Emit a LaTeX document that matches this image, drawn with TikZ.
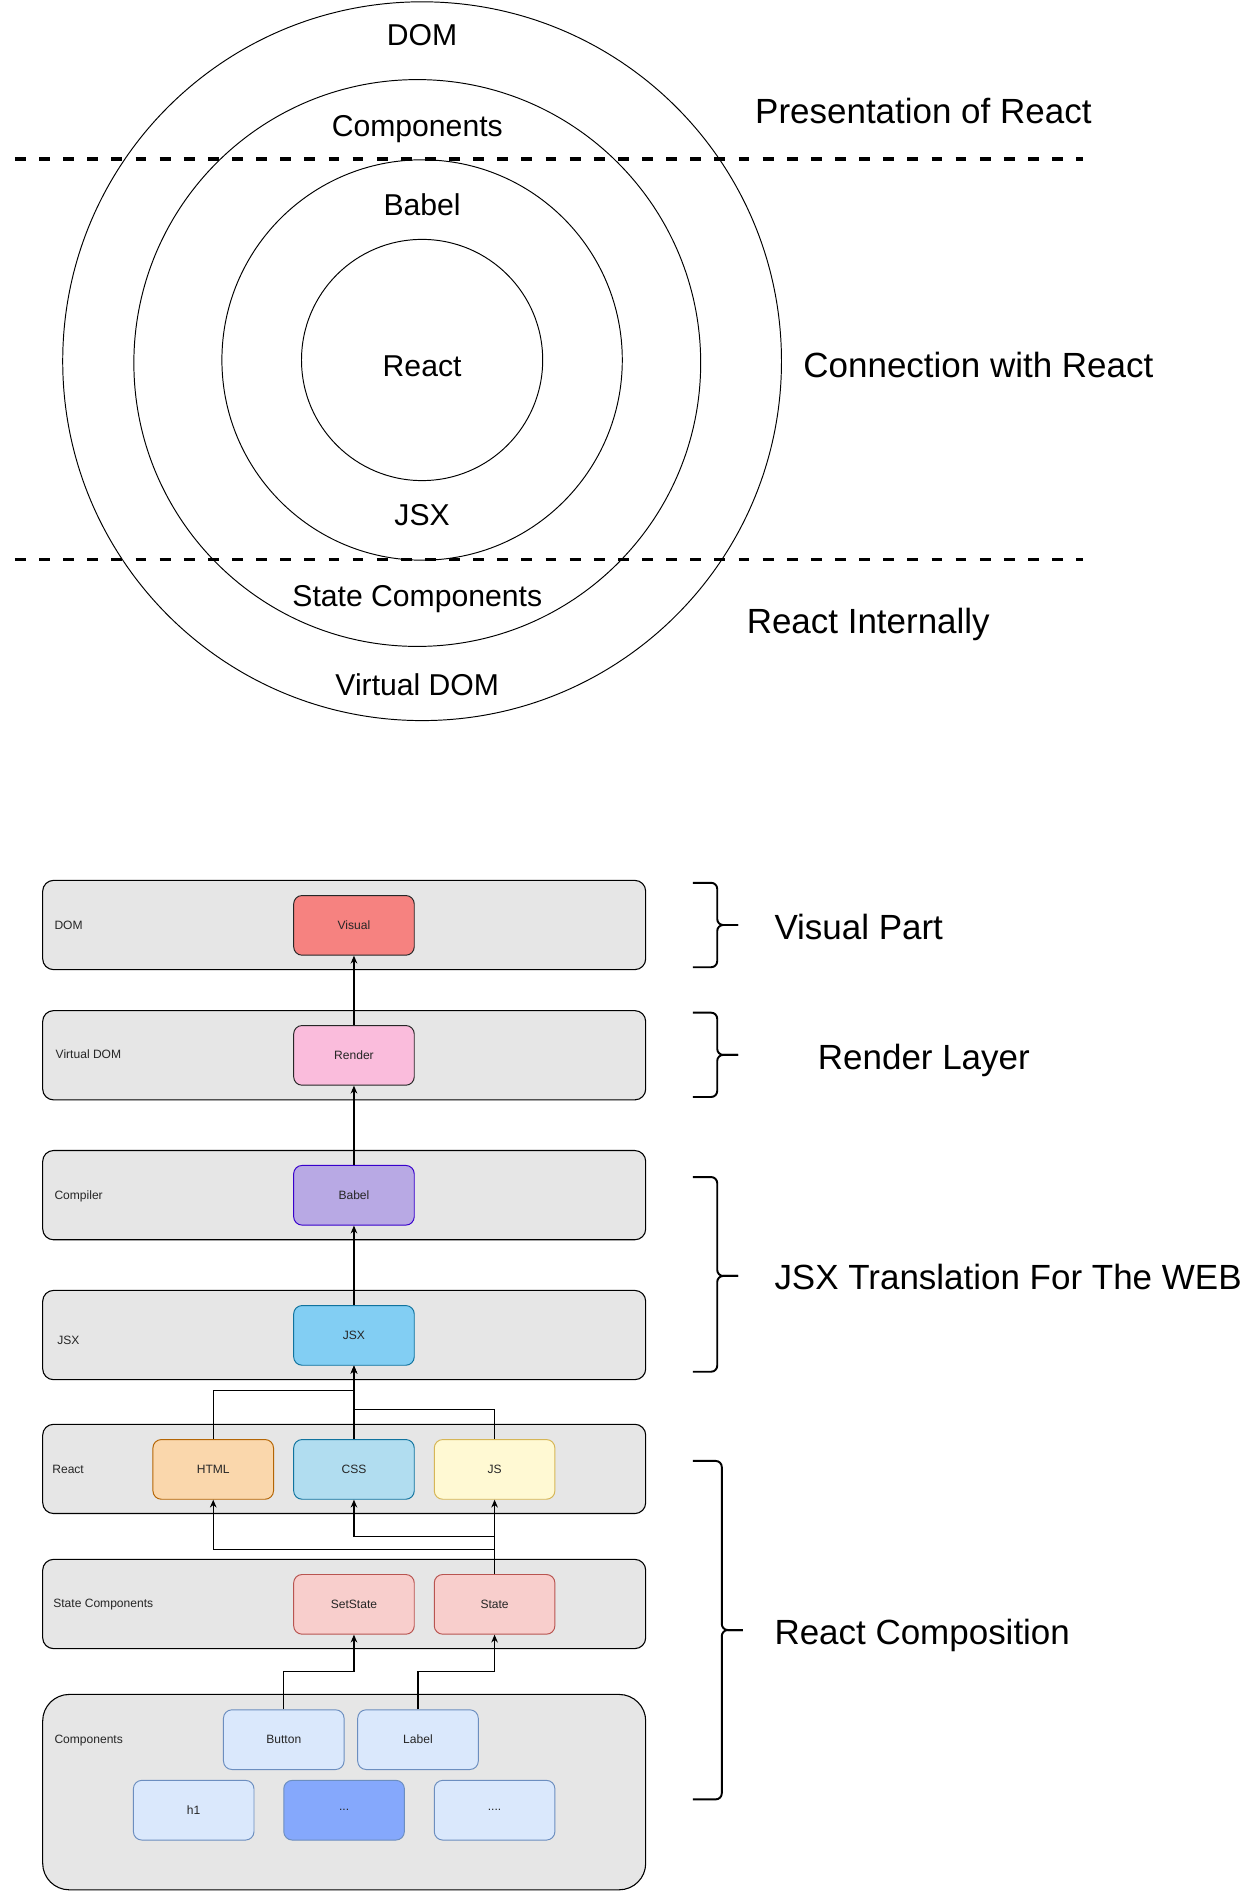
\documentclass[tikz,border=0pt]{standalone}
\usepackage{fontspec}
\setmainfont{Liberation Sans}
\usetikzlibrary{arrows.meta}

\definecolor{lanefill}{HTML}{E6E6E6}
\definecolor{visualfill}{RGB}{246,130,128}
\definecolor{renderfill}{RGB}{250,188,220}
\definecolor{babelfill}{RGB}{184,169,228}
\definecolor{babeldraw}{RGB}{55,0,204}
\definecolor{jsxfill}{RGB}{130,206,243}
\definecolor{bluedraw}{HTML}{10739E}
\definecolor{htmlfill}{HTML}{FAD7AC}
\definecolor{htmldraw}{HTML}{B46504}
\definecolor{cssfill}{HTML}{B1DDF0}
\definecolor{jsfill}{HTML}{FFF9D3}
\definecolor{jsdraw}{HTML}{D6B656}
\definecolor{statefill}{HTML}{F8CECC}
\definecolor{statedraw}{HTML}{B85450}
\definecolor{compfill}{HTML}{DAE8FC}
\definecolor{compdark}{RGB}{133,168,252}
\definecolor{compdraw}{HTML}{6C8EBF}

\begin{document}
\begin{tikzpicture}[x=1pt, y=-1pt]

      \tikzset{
        lane/.style={
          draw=black,
          fill=lanefill,
          line width=0.9pt,
          rounded corners=9pt,
          minimum width=500pt,
          minimum height=74pt,
          inner sep=0pt,
        },
        lane label/.style={
          anchor=base west,
          inner sep=0pt,
          text=black!85,
          font=\fontsize{10}{12}\selectfont,
        },
        item/.style={
          draw,
          line width=0.8pt,
          rounded corners=7pt,
          minimum width=100pt,
          minimum height=49.5pt,
          inner sep=0pt,
          text=black!85,
          font=\fontsize{10}{12}\selectfont,
        },
        link/.style={
          line width=0.9pt,
          -{Stealth[length=6.5pt,width=5.5pt]},
        },
        ring/.style={line width=0.8pt},
        ring label/.style={
          anchor=base,
          inner sep=0pt,
          font=\fontsize{25}{30}\selectfont,
        },
        side label/.style={
          anchor=base west,
          inner sep=0pt,
          font=\fontsize{29}{34}\selectfont,
        },
        split/.style={
          line width=3pt,
          dash pattern=on 9pt off 11pt,
        },
        brace/.style={line width=1.6pt, rounded corners=5pt},
      }

      \useasboundingbox (0,0) rectangle (1038,1568);

      \draw[ring] (350,299.5) circle[radius=298];
      \draw[ring] (346,301) circle[radius=235];
      \draw[ring] (350,298.5) circle[radius=166];
      \draw[ring] (350,298.5) circle[radius=100];

      \foreach \x/\y/\txt in {350/38/DOM,346/113/Components,350/179/Babel,
        350/312/React,350/436/JSX,346/503/State Components,346/577/Virtual DOM} {
        \node[ring label] at (\x,\y) {\txt};
      }

      \draw[split] (12.4,132) -- (898,132);
      \draw[split] (12.4,464) -- (898,464);

      \node[side label] (presentation) at (626,102) {Presentation of React};
      \node[side label] (connection) at (666,313) {Connection with React};
      \node[side label] (internally) at (619,525) {React Internally};

      \foreach \name/\y/\lx/\ly/\txt in {dom/767/45/770.6/DOM,
        vdom/875/46/877.6/Virtual DOM,compiler/991/45/994.2/Compiler,
        jsx/1107/47.3/1114.6/JSX,react/1218/43.2/1221.4/React,
        state/1330/44/1332.6/State Components} {
        \node[lane] (\name-lane) at (285.4,\y) {};
        \node[lane label] (\name-label) at (\lx,\ly) {\txt};
      }
      \node[lane, minimum height=162pt, rounded corners=22pt] (comp-lane) at (285.4,1486) {};
      \node[lane label] (comp-label) at (45,1445.3) {Components};

      \node[item, fill=visualfill, draw=black!85] (visual) at (293.5,767.3) {Visual};
      \node[item, fill=renderfill, draw=black!85] (render) at (293.5,875.1) {Render};
      \node[item, fill=babelfill, draw=babeldraw] (babel) at (293.5,991.1) {Babel};
      \node[item, fill=jsxfill, draw=bluedraw] (jsxbox) at (293.5,1107.3) {JSX};
      \node[item, fill=htmlfill, draw=htmldraw] (html) at (176.8,1218.4) {HTML};
      \node[item, fill=cssfill, draw=bluedraw] (css) at (293.5,1218.4) {CSS};
      \node[item, fill=jsfill, draw=jsdraw] (js) at (410.1,1218.4) {JS};
      \node[item, fill=statefill, draw=statedraw] (setstate) at (293.5,1330.3) {SetState};
      \node[item, fill=statefill, draw=statedraw] (statebox) at (410.1,1330.3) {State};
      \node[item, fill=compfill, draw=compdraw] (button) at (235.3,1442.5) {Button};
      \node[item, fill=compfill, draw=compdraw] (label) at (346.6,1442.5) {Label};
      \node[item, fill=compfill, draw=compdraw] (h1) at (160.6,1501) {h1};
      \node[item, fill=compdark, draw=compdraw] (dots) at (285.3,1501) {...};
      \node[item, fill=compfill, draw=compdraw] (moredots) at (410.1,1501) {....};

      \draw[link] (render) -- (visual);
      \draw[link] (babel) -- (render);
      \draw[link] (jsxbox) -- (babel);
      \draw[link] (css) -- (jsxbox);
      \draw[link] (html.north) -- (html.north |- 0,1153) -| (jsxbox.south);
      \draw[link] (js.north) -- (js.north |- 0,1169) -| (jsxbox.south);
      \draw[link] (statebox) -- (js);
      \draw[link] (statebox.north) -- (statebox.north |- 0,1274) -| (css.south);
      \draw[link] (statebox.north) -- (statebox.north |- 0,1285) -| (html.south);
      \draw[link] (button.north) -- (button.north |- 0,1386) -| (setstate.south);
      \draw[link] (label.north) -- (label.north |- 0,1386) -| (statebox.south);

      \foreach \top/\mid/\bottom/\vx/\tx in {732/767/802/594.7/612,
        839.7/874.7/909.6/594.7/612,976/1058/1137.4/594.7/612,
        1211.4/1351.6/1492/598.5/616} {
        \draw[brace] (574.6,\top) -| (\vx,\mid) -- (\tx,\mid);
        \draw[brace] (574.6,\bottom) -| (\vx,\mid) -- (\tx,\mid);
      }

      \node[side label] (visual part) at (642,778.8) {Visual Part};
      \node[side label] (render layer) at (678,886.4) {Render Layer};
      \node[side label] (translation) at (642,1069) {JSX Translation For The WEB};
      \node[side label] (composition) at (642,1363.4) {React Composition};

    \end{tikzpicture}
\end{document}
